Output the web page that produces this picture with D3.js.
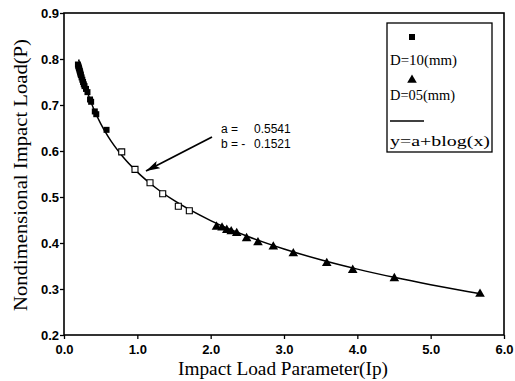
<!DOCTYPE html>
<html>
<head>
<meta charset="utf-8">
<script src="https://cdn.jsdelivr.net/npm/d3@7"></script>
<style>
  body { margin: 0; background: #fff; }
  svg { display: block; }
</style>
</head>
<body>
<svg id="chart" width="515" height="381"></svg>
<script>
// D=10(mm), filled squares
const d10X = [0.19, 0.195, 0.20, 0.205, 0.21, 0.215, 0.22, 0.225, 0.23, 0.24, 0.25, 0.26, 0.27, 0.28, 0.30, 0.32, 0.355, 0.37, 0.42, 0.44, 0.58]
const d10Y = [0.788, 0.785, 0.782, 0.780, 0.777, 0.774, 0.771, 0.768, 0.765, 0.760, 0.755, 0.750, 0.745, 0.741, 0.735, 0.728, 0.712, 0.707, 0.686, 0.680, 0.646]
// open squares along the middle of the curve
const openX = [0.787, 0.968, 1.173, 1.346, 1.559, 1.709]
const openY = [0.598, 0.560, 0.531, 0.507, 0.480, 0.470]
// D=05(mm), triangles
const d05X = [2.08, 2.155, 2.22, 2.28, 2.355, 2.49, 2.645, 2.854, 3.127, 3.583, 3.937, 4.505, 5.673]
const d05Y = [0.435, 0.433, 0.428, 0.425, 0.421, 0.410, 0.401, 0.392, 0.377, 0.356, 0.341, 0.323, 0.289]
// fit y = a + b*ln(x)
const fitA = 0.5541
const fitB = -0.1521
const fitX = [0.2, 0.25, 0.3, 0.4, 0.5, 0.6, 0.8, 1.0, 1.25, 1.5, 2.0, 2.5, 3.0, 3.5, 4.0, 4.5, 5.0, 5.5, 5.7]

const xTicks = [0, 1, 2, 3, 4, 5, 6]
const yTicks = [0.2, 0.3, 0.4, 0.5, 0.6, 0.7, 0.8, 0.9]

const svg = d3.select('#chart')
const m = { left: 64, right: 504, top: 13, bottom: 335 }

const x = d3.scaleLinear().domain([0, 6]).range([m.left, m.right])
const y = d3.scaleLinear().domain([0.2, 0.9]).range([m.bottom, m.top])

const tickFont = 'Liberation Sans, Arial, sans-serif'
const serif = 'Liberation Serif, Times New Roman, serif'

// axes
const xAxis = svg.append('g')
  .attr('transform', `translate(0,${m.bottom})`)
  .call(d3.axisBottom(x).tickValues(xTicks).tickFormat(d3.format('.1f')).tickSize(4).tickSizeOuter(0))
const yAxis = svg.append('g')
  .attr('transform', `translate(${m.left},0)`)
  .call(d3.axisLeft(y).tickValues(yTicks).tickFormat(d3.format('.1f')).tickSize(4).tickSizeOuter(0))

;[xAxis, yAxis].forEach(g => {
  g.select('.domain').remove()
  g.selectAll('line').attr('stroke', '#000').attr('stroke-width', 1.3)
  g.selectAll('text')
    .attr('fill', '#000')
    .style('font-family', tickFont)
    .style('font-weight', 'bold')
    .style('font-size', '13px')
})
xAxis.selectAll('text').attr('dy', '0.95em')
yAxis.selectAll('text').attr('x', -5)

// frame
svg.append('rect')
  .attr('x', m.left).attr('y', m.top)
  .attr('width', m.right - m.left).attr('height', m.bottom - m.top)
  .attr('fill', 'none').attr('stroke', '#000').attr('stroke-width', 1.6)

// axis titles
svg.append('text')
  .attr('x', 283).attr('y', 375)
  .attr('text-anchor', 'middle')
  .attr('textLength', 210).attr('lengthAdjust', 'spacingAndGlyphs')
  .style('font-family', serif).style('font-size', '18px')
  .text('Impact Load Parameter(Ip)')
svg.append('text')
  .attr('transform', 'translate(27,175) rotate(-90)')
  .attr('text-anchor', 'middle')
  .attr('textLength', 272).attr('lengthAdjust', 'spacingAndGlyphs')
  .style('font-family', serif).style('font-size', '18px')
  .text('Nondimensional Impact Load(P)')

// fitted curve
const line = d3.line()
  .x(d => x(d))
  .y(d => y(fitA + fitB * Math.log(d)))
  .curve(d3.curveMonotoneX)
svg.append('path')
  .datum(fitX)
  .attr('d', line)
  .attr('fill', 'none').attr('stroke', '#000').attr('stroke-width', 1.5)

// markers
const sq = d3.symbol().type(d3.symbolSquare).size(36)
const tri = d3.symbol().type(d3.symbolTriangle).size(40)

svg.append('g').selectAll('path')
  .data(d10X.map((v, i) => [v, d10Y[i]]))
  .join('path')
  .attr('d', sq)
  .attr('transform', d => `translate(${x(d[0])},${y(d[1])})`)
  .attr('fill', '#000')

svg.append('g').selectAll('path')
  .data(openX.map((v, i) => [v, openY[i]]))
  .join('path')
  .attr('d', sq)
  .attr('transform', d => `translate(${x(d[0])},${y(d[1])})`)
  .attr('fill', '#fff').attr('stroke', '#000').attr('stroke-width', 1.1)

svg.append('g').selectAll('path')
  .data(d05X.map((v, i) => [v, d05Y[i]]))
  .join('path')
  .attr('d', tri)
  .attr('transform', d => `translate(${x(d[0])},${y(d[1])})`)
  .attr('fill', '#000')

// annotation with arrow
svg.append('defs').append('marker')
  .attr('id', 'head')
  .attr('viewBox', '0 0 14 8')
  .attr('refX', 14).attr('refY', 4)
  .attr('markerUnits', 'userSpaceOnUse')
  .attr('markerWidth', 14).attr('markerHeight', 8)
  .attr('orient', 'auto')
  .append('path').attr('d', 'M0,0 L14,4 L0,8 L3,4 Z').attr('fill', '#000')
svg.append('line')
  .attr('x1', 212).attr('y1', 137)
  .attr('x2', 146).attr('y2', 171)
  .attr('stroke', '#000').attr('stroke-width', 1.8)
  .attr('marker-end', 'url(#head)')

const ann = svg.append('g')
  .style('font-family', tickFont).style('font-size', '12px')
ann.append('text').attr('x', 221).attr('y', 133).text('a =')
ann.append('text').attr('x', 254).attr('y', 133).text('0.5541')
ann.append('text').attr('x', 221).attr('y', 148).text('b = -')
ann.append('text').attr('x', 254).attr('y', 148).text('0.1521')

// legend
const lg = svg.append('g')
lg.append('rect')
  .attr('x', 387).attr('y', 23).attr('width', 105).attr('height', 129)
  .attr('fill', '#fff').attr('stroke', '#000').attr('stroke-width', 1.3)
lg.append('path').attr('d', sq).attr('transform', 'translate(412,37)').attr('fill', '#000')
lg.append('path').attr('d', tri).attr('transform', 'translate(412,80)').attr('fill', '#000')
lg.append('line').attr('x1', 390).attr('x2', 424).attr('y1', 121).attr('y2', 121)
  .attr('stroke', '#000').attr('stroke-width', 1.5)
const legendText = ['D=10(mm)', 'D=05(mm)', 'y=a+blog(x)']
const legendY = [65, 100, 146]
const legendW = [67, 65, 100]
lg.selectAll('text.lab')
  .data(legendText)
  .join('text')
  .attr('class', 'lab')
  .attr('x', 390)
  .attr('y', (d, i) => legendY[i])
  .attr('textLength', (d, i) => legendW[i])
  .attr('lengthAdjust', 'spacingAndGlyphs')
  .style('font-family', serif).style('font-size', '15.5px')
  .text(d => d)
</script>
</body>
</html>
